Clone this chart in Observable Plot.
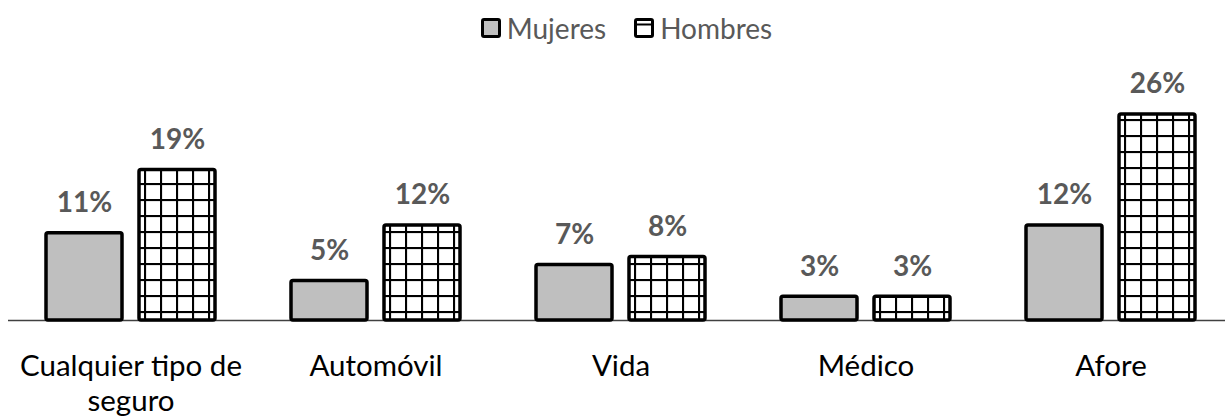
<!DOCTYPE html>
<html>
<head>
<meta charset="utf-8">
<script src="https://cdn.jsdelivr.net/npm/d3@7"></script>
<script src="https://cdn.jsdelivr.net/npm/@observablehq/plot@0.6"></script>
<style>
  html, body { margin: 0; padding: 0; background: #fff; }
  body { width: 1225px; height: 416px; overflow: hidden; font-family: Lato, "Open Sans", sans-serif; }
  #legend { height: 55px; display: flex; justify-content: center; align-items: center; padding-left: 28px; box-sizing: border-box; font-size: 28px; color: #595959; }
  .item { display: flex; align-items: center; margin: 0 14px; }
  .item svg { margin-right: 6px; }
  #chart svg { display: block; }
</style>
</head>
<body>
<div id="legend"></div>
<div id="chart"></div>
<script>
const categories = ["Cualquier tipo de seguro", "Automóvil", "Vida", "Médico", "Afore"];
const series = ["Mujeres", "Hombres"];
const mujeres = [11, 5, 7, 3, 12];
const hombres = [19, 12, 8, 3, 26];

const data = [];
categories.forEach((c, i) => {
  data.push({category: c, series: "Mujeres", value: mujeres[i]});
  data.push({category: c, series: "Hombres", value: hombres[i]});
});

// Legend
const legend = document.getElementById("legend");
series.forEach(s => {
  const item = document.createElement("div");
  item.className = "item";
  const sw = s === "Mujeres"
    ? `<svg width="20" height="20"><rect x="1.5" y="1.5" width="17" height="17" rx="1.5" fill="#bfbfbf" stroke="#000" stroke-width="3"/></svg>`
    : `<svg width="20" height="20"><rect x="1.5" y="1.5" width="17" height="17" rx="1.5" fill="#fff" stroke="#000" stroke-width="3"/><line x1="2" x2="18" y1="6.5" y2="6.5" stroke="#000" stroke-width="2"/></svg>`;
  item.innerHTML = sw + `<span>${s}</span>`;
  legend.appendChild(item);
});

const chart = Plot.plot({
  width: 1225,
  height: 361,
  marginLeft: 8,
  marginRight: 0,
  marginTop: 59,
  marginBottom: 96,
  style: {fontFamily: "Lato, 'Open Sans', sans-serif", background: "#fff"},
  fx: {domain: categories, range: [8, 1233], padding: 0, label: null, axis: null},
  x: {domain: series, axis: null, paddingInner: 0.183, paddingOuter: 0.401},
  y: {domain: [0, 26], axis: null},
  marks: [
    Plot.ruleY([0], {stroke: "#404040", strokeWidth: 1.5}),
    Plot.barY(data.filter(d => d.series === "Mujeres"), {fx: "category", x: "series", y: "value", fill: "#bfbfbf", stroke: "#000", strokeWidth: 3.5, rx: 2}),
    Plot.barY(data.filter(d => d.series === "Hombres"), {fx: "category", x: "series", y: "value", fill: "url(#grid)", stroke: "#000", strokeWidth: 3.5, rx: 2}),
    Plot.text(data, {fx: "category", x: "series", y: "value", text: d => d.value + "%", dy: -30, lineAnchor: "middle", fontSize: 28, fontWeight: "bold", fill: "#595959"}),
    Plot.axisFx({anchor: "bottom", tickSize: 0, tickPadding: 30, fontSize: 29.5, lineHeight: 1.2, fill: "#000", label: null,
      tickFormat: d => d.replace("tipo de ", "tipo de\n")})
  ]
});

const svgNS = "http://www.w3.org/2000/svg";
const defs = document.createElementNS(svgNS, "defs");
defs.innerHTML = `<pattern id="grid" patternUnits="userSpaceOnUse" width="16" height="16" x="0" y="0">
  <rect width="16" height="16" fill="#fff"/>
  <line x1="0" x2="16" y1="1" y2="1" stroke="#000" stroke-width="2.2"/>
  <line x1="1" x2="1" y1="0" y2="16" stroke="#000" stroke-width="2.2"/>
</pattern>`;
chart.insertBefore(defs, chart.firstChild);
document.getElementById("chart").appendChild(chart);
</script>
</body>
</html>
